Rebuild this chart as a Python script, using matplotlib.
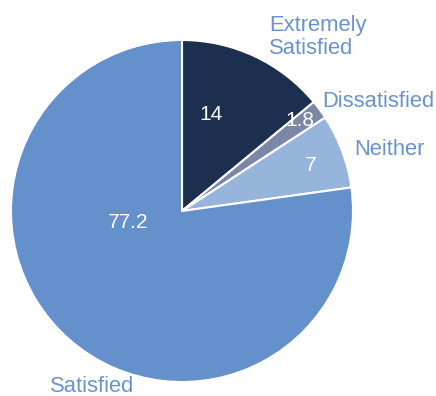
import numpy as np
import matplotlib.pyplot as plt

plt.rcParams['font.family'] = ['Liberation Sans', 'DejaVu Sans']

categories = ['Extremely\nSatisfied', 'Dissatisfied', 'Neither', 'Satisfied']
values = [14, 1.8, 7, 77.2]
colors = ['#1c2f4f', '#7a88a6', '#97b5dc', '#6490cb']
label_color = '#6a93cc'

fig = plt.figure(figsize=(4.36, 3.96), dpi=100)
ax = fig.add_axes([0, 0, 1, 1])

wedges, _ = ax.pie(values, colors=colors, startangle=90, counterclock=False,
                   radius=1, center=(0, 0),
                   wedgeprops=dict(edgecolor='white', linewidth=1.5))

# value labels inside the slices (radius, angle in degrees)
inner_pos = [(0.59, 73), (0.87, 37.3), (0.80, 19.6), (0.32, 191.7)]
for v, (r, a) in zip(values, inner_pos):
    t = np.radians(a)
    ax.text(r * np.cos(t), r * np.sin(t), f'{v:g}', color='white',
            fontsize=15, ha='center', va='center')

# category names outside the pie
outer_pos = [(0.51, 1.015, 'left'), (0.82, 0.64, 'left'),
             (1.01, 0.36, 'left'), (-0.772, -1.025, 'left')]
for name, (x, y, ha) in zip(categories, outer_pos):
    ax.text(x, y, name, color=label_color, fontsize=15.8, ha=ha, va='center',
            linespacing=1.12)

ax.set_xlim(-182 / 171, (436 - 182) / 171)
ax.set_ylim((211 - 396) / 171, 211 / 171)
ax.set_aspect('equal')
ax.axis('off')

plt.savefig('out.png', dpi=100)
